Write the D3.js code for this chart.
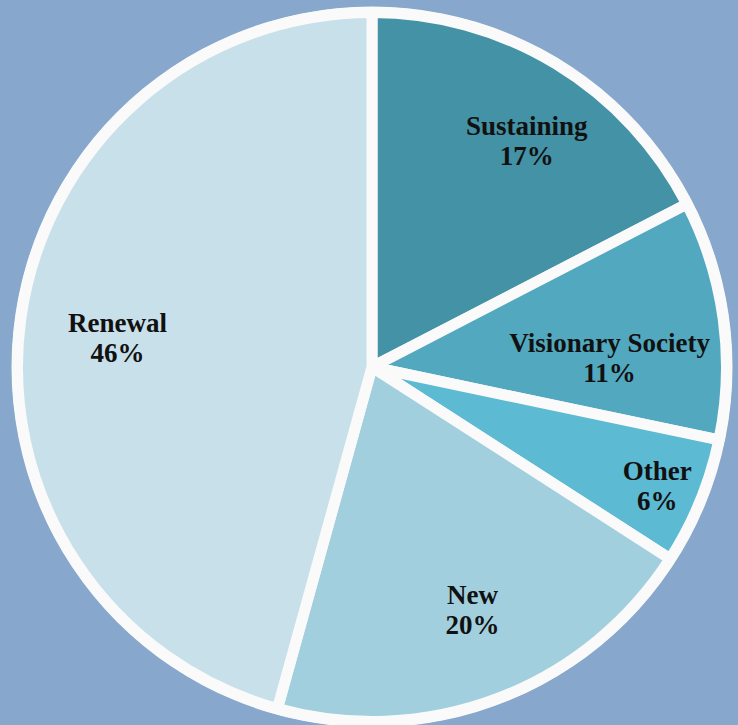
<!DOCTYPE html>
<html>
<head>
<meta charset="utf-8">
<script src="https://cdn.jsdelivr.net/npm/d3@7"></script>
<style>
  html, body { margin: 0; padding: 0; background: #87a8cc; }
  svg { display: block; }
</style>
</head>
<body>
<div id="pie"></div>
<script>
// Define SVG area dimensions
var svgWidth = 738;
var svgHeight = 725;

// ------------ DATA ------------
var categories = ["Sustaining", "Visionary Society", "Other", "New", "Renewal"];
// shares (labels show them rounded)
var shares = [17.4, 10.9, 5.8, 20.2, 45.7];
var percentLabels = ["17%", "11%", "6%", "20%", "46%"];

// slice colours, same order as categories
var sliceColors = ["#4392a5", "#52a9bf", "#5cbad3", "#a2cfde", "#c8e0e9"];

// small nudges so labels sit where the original "best fit" put them
var labelNudge = {
  "Sustaining": [17, -6],
  "Visionary Society": [-25, 21],
  "Other": [40, 12],
  "New": [6, -11],
  "Renewal": [8, 1]
};

// ------------ LAYOUT ------------
var cx = 372;
var cy = 367;
var radius = 354.5;
var strokeW = 11;

var svg = d3.select("#pie")
  .append("svg")
  .attr("width", svgWidth)
  .attr("height", svgHeight);

var table = categories.map(function(c, i) {
  return { name: c, value: shares[i], pct: percentLabels[i] };
});

var color = d3.scaleOrdinal()
  .domain(categories)
  .range(sliceColors);

var pie = d3.pie()
  .value(d => d.value)
  .sort(null);

var arc = d3.arc()
  .innerRadius(0)
  .outerRadius(radius);

var labelArc = d3.arc()
  .innerRadius(265)
  .outerRadius(265);

var chartGroup = svg.append("g")
  .attr("transform", `translate(${cx}, ${cy})`);

// white rim behind the pie
chartGroup.append("circle")
  .attr("r", radius + strokeW / 2 + 0.5)
  .attr("fill", "#fafafa");

// ------------ SLICES ------------
var arcs = pie(table);

chartGroup.append("g")
  .selectAll("path")
  .data(arcs)
  .enter()
  .append("path")
    .attr("d", arc)
    .attr("fill", d => color(d.data.name))
    .attr("stroke", "#fafafa")
    .attr("stroke-width", strokeW)
    .attr("stroke-linejoin", "miter");

// ------------ LABELS ------------
var labels = chartGroup.append("g")
  .selectAll("text")
  .data(arcs)
  .enter()
  .append("text")
    .attr("transform", function(d) {
      var c = labelArc.centroid(d);
      var n = labelNudge[d.data.name];
      return `translate(${c[0] + n[0]}, ${c[1] + n[1]})`;
    })
    .attr("text-anchor", "middle")
    .attr("font-family", "'Liberation Serif', 'Times New Roman', serif")
    .attr("font-weight", "bold")
    .attr("font-size", "27px")
    .attr("fill", "#111");

labels.append("tspan")
  .attr("x", 0)
  .attr("y", 0)
  .text(d => d.data.name);

labels.append("tspan")
  .attr("x", 0)
  .attr("y", 30)
  .text(d => d.data.pct);
</script>
</body>
</html>
